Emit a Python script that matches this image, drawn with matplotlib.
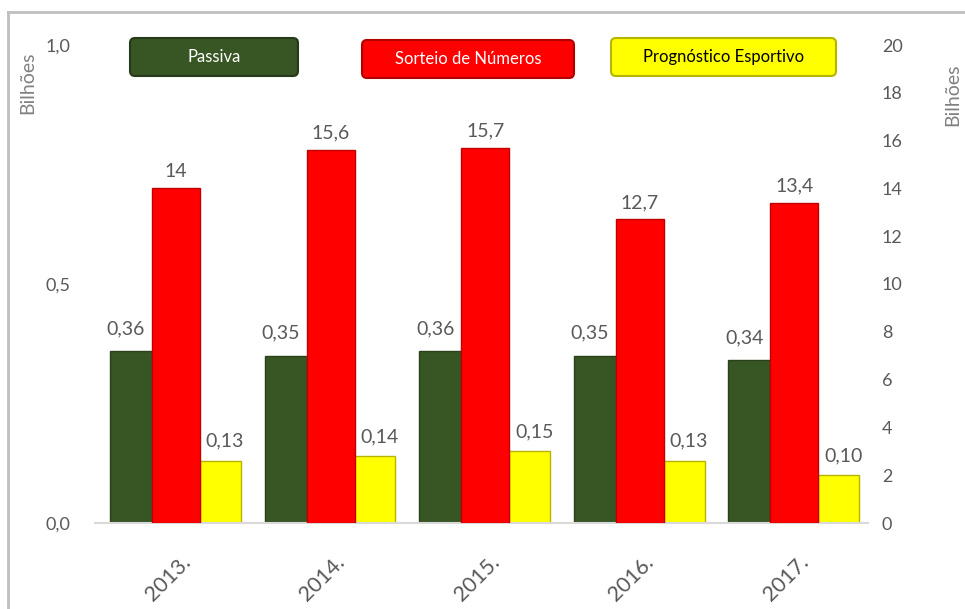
import numpy as np
import matplotlib.pyplot as plt
from matplotlib.patches import FancyBboxPatch

plt.rcParams['font.family'] = ['Lato', 'DejaVu Sans']

years = ["2013.", "2014.", "2015.", "2016.", "2017."]
passiva = [0.36, 0.35, 0.36, 0.35, 0.34]
sorteio = [14, 15.6, 15.7, 12.7, 13.4]
prognostico = [0.13, 0.14, 0.15, 0.13, 0.10]
legend_names = ["Passiva", "Sorteio de Números", "Prognóstico Esportivo"]

GREEN = "#375623"
RED = "#ff0000"
YELLOW = "#ffff00"
GREY = "#595959"


def br(v, nd):
    return f"{v:.{nd}f}".replace(".", ",")


fig = plt.figure(figsize=(9.65, 6.09), dpi=100)
ax = fig.add_axes([95/965, 86/609, 773/965, 478/609])
ax2 = ax.twinx()

x = np.arange(len(years))

b1 = ax.bar(x - 0.267, passiva, width=0.272, color=GREEN, edgecolor="#2a4119", linewidth=1)
b3 = ax.bar(x + 0.311, prognostico, width=0.265, color=YELLOW, edgecolor="#b5b500", linewidth=1)
b2 = ax2.bar(x + 0.024, sorteio, width=0.31, color=RED, edgecolor="#c00000", linewidth=1)

for xi, v in zip(x, passiva):
    ax.annotate(br(v, 2), (xi - 0.30, v), xytext=(0, 10), textcoords="offset points",
                ha="center", va="bottom", fontsize=14, color=GREY)
for xi, v in zip(x, prognostico):
    ax.annotate(br(v, 2), (xi + 0.34, v), xytext=(0, 8), textcoords="offset points",
                ha="center", va="bottom", fontsize=14, color=GREY)
for xi, v in zip(x, sorteio):
    lbl = br(v, 1) if v != int(v) else str(int(v))
    ax2.annotate(lbl, (xi + 0.024, v), xytext=(0, 6), textcoords="offset points",
                 ha="center", va="bottom", fontsize=14, color=GREY)

ax.set_xlim(-0.5, 4.5)
ax.set_ylim(0, 1.0)
ax2.set_ylim(0, 20)
ax.set_yticks([0, 0.5, 1.0])
ax.set_yticklabels(["0,0", "0,5", "1,0"])
ax2.set_yticks(range(0, 21, 2))

ax.set_xticks(x + 0.05)
ax.set_xticklabels(years, rotation=45, ha="right", rotation_mode="anchor")

for a in (ax, ax2):
    for s in a.spines.values():
        s.set_visible(False)
    a.tick_params(length=0, labelsize=13, colors=GREY)
ax.spines["bottom"].set_visible(True)
ax.spines["bottom"].set_color("#d9d9d9")
ax.spines["bottom"].set_linewidth(1.5)
ax.tick_params(axis="y", pad=18)
ax2.tick_params(axis="y", pad=10)
ax.tick_params(axis="x", pad=21, labelsize=15.5)

fig.text(28/965, 1 - 83/609, "Bilhões", rotation=90, ha="center", va="center",
         fontsize=14, color="#808080")
fig.text(953/965, 1 - 95/609, "Bilhões", rotation=90, ha="center", va="center",
         fontsize=14, color="#808080")

# legend boxes
boxes = [(130, 38, 168, 38, GREEN, "white", "#26391a"),
         (362, 40, 212, 38, RED, "white", "#b00000"),
         (611, 38, 225, 38, YELLOW, "black", "#b5b500")]
for (bx, by, bw, bh, fc, tc, ec), name in zip(boxes, legend_names):
    y0 = (609 - by - bh) / 100
    p = FancyBboxPatch((bx / 100, y0), bw / 100, bh / 100,
                       boxstyle="round,pad=0,rounding_size=0.05",
                       transform=fig.dpi_scale_trans, facecolor=fc,
                       edgecolor=ec, linewidth=1.5)
    fig.add_artist(p)
    fig.text((bx + bw / 2) / 965, (609 - by - bh / 2) / 609, name,
             ha="center", va="center", fontsize=12, color=tc)

# outer chart border
fig.add_artist(plt.Line2D([8/965, 1], [1 - 12/609, 1 - 12/609],
                          transform=fig.transFigure, color="#bfbfbf", linewidth=2))
fig.add_artist(plt.Line2D([8/965, 8/965], [0, 1 - 12/609],
                          transform=fig.transFigure, color="#bfbfbf", linewidth=2))

fig.savefig("out.png", dpi=100)
